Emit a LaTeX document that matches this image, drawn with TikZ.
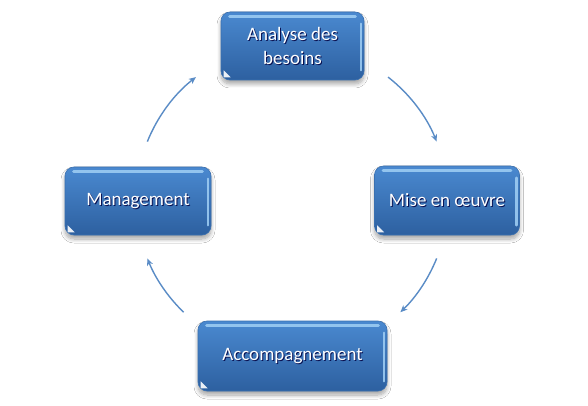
\documentclass[tikz,border=0pt]{standalone}
\usepackage{fontspec}
\setmainfont{Carlito}
\usetikzlibrary{arrows.meta,calc,shadows.blur}
\definecolor{boxtop}{HTML}{4A89D0}
\definecolor{boxbot}{HTML}{2D60A0}
\definecolor{boxedge}{HTML}{3A70B0}
\definecolor{hilite}{HTML}{9CCBF2}
\definecolor{arrcol}{HTML}{5A8CC6}
\tikzset{
  stagebox/.style={rounded corners=9pt, minimum width=#1, inner sep=0pt,
    top color=boxtop, bottom color=boxbot, draw=boxedge, line width=0.6pt,
    blur shadow={shadow xshift=0pt, shadow yshift=-4pt, shadow blur steps=8, shadow blur radius=4pt, shadow opacity=35}},
  stagetext/.style={text=white, font=\fontsize{19}{23.5}\selectfont, align=center, inner sep=0pt},
  gloss/.style={hilite, line width=3pt, line cap=round, opacity=0.9},
  arr/.style={arrcol, line width=1.4pt, -{Stealth[length=7pt,width=6pt,inset=2pt]}}
}
\newcommand{\glossy}[1]{%
  \draw[gloss] ($(#1.north west)+(9,-4.5)$) -- ($(#1.north east)+(-9,-4.5)$);
  \draw[gloss, line width=2.4pt] ($(#1.north east)+(-3.5,-12)$) -- ($(#1.south east)+(-3.5,10)$);
  \fill[white, opacity=0.9] ($(#1.south west)+(3,3)$) -- ++(7,0) -- ++(-7,7) -- cycle;
}
\newcommand{\stagelabel}[2]{%
  \node[stagetext, text=black!75!blue, opacity=0.85] (#1-s) at ($(#1)+(1,-1)$) {#2};
  \node[stagetext] (#1-t) at (#1) {#2};
}
\begin{document}
\begin{tikzpicture}[x=1pt,y=1pt]
\useasboundingbox[fill=white] (0,0) rectangle (588,405);
\coordinate (C) at (292,205);
\node[stagebox=143pt, minimum height=68pt] (ab) at (292.5,359) {};
\node[stagebox=145pt, minimum height=69pt] (me) at (447,204.5) {};
\node[stagebox=189pt, minimum height=70pt] (ac) at (292.5,49) {};
\node[stagebox=146pt, minimum height=68pt] (mg) at (138,204) {};
\glossy{ab}\glossy{me}\glossy{ac}\glossy{mg}
\stagelabel{ab}{Analyse des\\besoins}
\stagelabel{me}{Mise en œuvre}
\stagelabel{ac}{Accompagnement}
\stagelabel{mg}{Management}
\coordinate (a1) at ($(C)+(52:156)$);
\coordinate (a2) at ($(C)+(-22:156)$);
\coordinate (a3) at ($(C)+(226:156)$);
\coordinate (a4) at ($(C)+(158:156)$);
\draw[arr] (a1) arc[start angle=52, end angle=22, radius=156];
\draw[arr] (a2) arc[start angle=-22, end angle=-46, radius=156];
\draw[arr] (a3) arc[start angle=226, end angle=202, radius=156];
\draw[arr] (a4) arc[start angle=158, end angle=128, radius=156];
\end{tikzpicture}
\end{document}
